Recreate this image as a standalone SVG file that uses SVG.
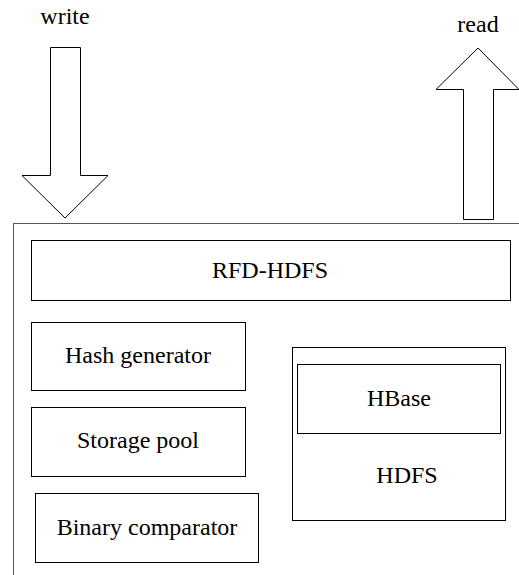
<svg xmlns="http://www.w3.org/2000/svg" width="519" height="575" viewBox="0 0 519 575">
<style>
.box{fill:#fff;stroke:#000;stroke-width:1}
.outer{fill:none;stroke:#555;stroke-width:1}
.arrow{fill:#fff;stroke:#000;stroke-width:1}
text{font-family:"Liberation Serif","Times New Roman",serif;font-size:24px;fill:#000;text-anchor:middle}
</style>
<rect width="519" height="575" fill="#fff"/>
<g id="container"><rect class="outer" x="13.5" y="223.5" width="520" height="370"/></g>
<g id="connectors">
<path id="write-arrow" class="arrow" d="M50.5,47.5 H80.5 V175.5 H108 L65,218 L22,175.5 H50.5 Z"/>
<path id="read-arrow" class="arrow" d="M463.5,219.5 H493.5 V89.5 H519 L478,48 L436,89.5 H463.5 Z"/>
</g>
<g id="labels">
<text x="65" y="24">write</text>
<text x="478" y="32">read</text>
</g>
<g id="rfd-hdfs"><rect class="box" x="31.5" y="240.5" width="479" height="60"/><text x="270" y="278">RFD-HDFS</text></g>
<g id="hash-generator"><rect class="box" x="31.5" y="322.5" width="214" height="68"/><text x="138" y="363">Hash generator</text></g>
<g id="storage-pool"><rect class="box" x="31.5" y="407.5" width="214" height="69"/><text x="138" y="448">Storage pool</text></g>
<g id="binary-comparator"><rect class="box" x="35.5" y="493.5" width="223" height="69"/><text x="147" y="535">Binary comparator</text></g>
<g id="hdfs"><rect class="box" x="292.5" y="347.5" width="213" height="173"/><text x="407" y="483">HDFS</text></g>
<g id="hbase"><rect class="box" x="297.5" y="364.5" width="203" height="69"/><text x="399" y="406">HBase</text></g>
</svg>
